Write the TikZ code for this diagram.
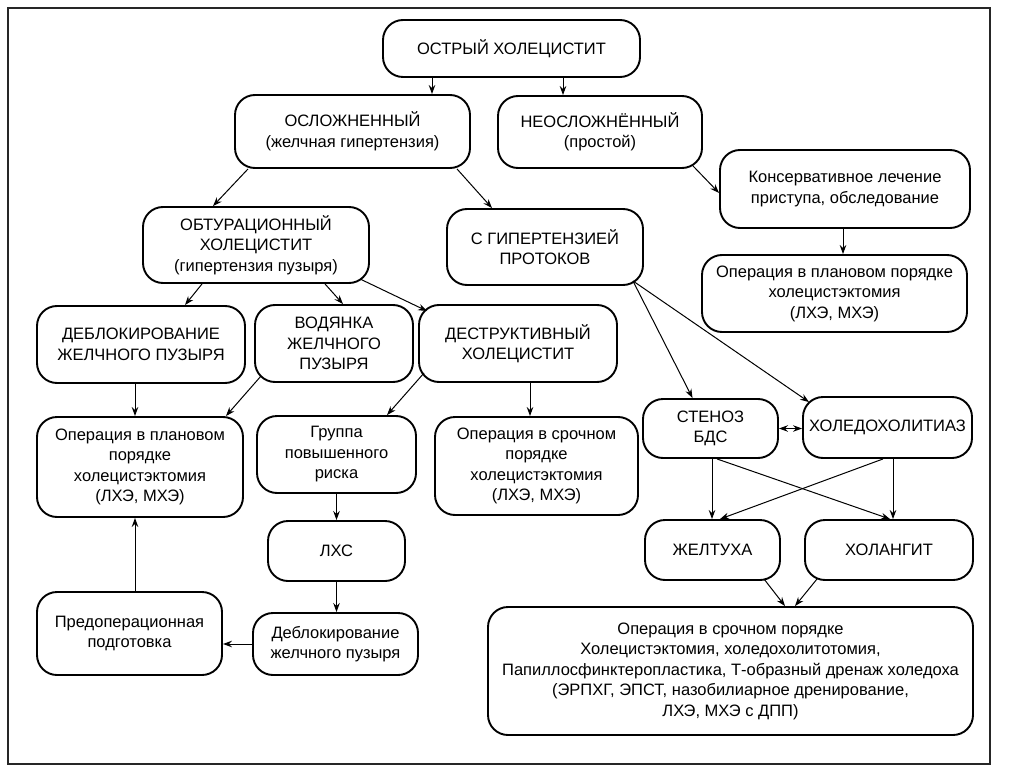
\documentclass[tikz,border=0pt]{standalone}
\usepackage{fontspec}
\setmainfont{Liberation Sans}
\usetikzlibrary{arrows.meta}
\begin{document}
\begin{tikzpicture}[x=1pt,y=-1pt,
  box/.style={draw, line width=1.9pt, rounded corners=20pt, align=center,
    inner sep=2pt, font=\fontsize{16.5}{20.5}\selectfont},
  arr/.style={line width=1pt, -{Stealth[length=9pt,width=6.5pt]}},
  darr/.style={line width=1pt, {Stealth[length=9pt,width=6.5pt]}-{Stealth[length=9pt,width=6.5pt]}}]
\useasboundingbox (0,0) rectangle (1024,767);
\draw[line width=1.6pt, black!85] (8,8) rectangle (990,764);

\node[box, minimum width=257pt, minimum height=57pt] (ost) at (511.5,48.5) {ОСТРЫЙ ХОЛЕЦИСТИТ};
\node[box, minimum width=235pt, minimum height=73pt] (osl) at (352.5,131.5) {ОСЛОЖНЕННЫЙ\\(желчная гипертензия)};
\node[box, minimum width=204pt, minimum height=72pt] (neo) at (600,132) {НЕОСЛОЖНЁННЫЙ\\(простой)};
\node[box, minimum width=250pt, minimum height=78pt] (kons) at (845,189) {Консервативное лечение\\приступа, обследование};
\node[box, minimum width=265pt, minimum height=77pt] (plan2) at (834.5,293.5) {Операция в плановом порядке\\холецистэктомия\\(ЛХЭ, МХЭ)};
\node[box, minimum width=226pt, minimum height=76pt] (obt) at (256,245) {ОБТУРАЦИОННЫЙ\\ХОЛЕЦИСТИТ\\(гипертензия пузыря)};
\node[box, minimum width=196pt, minimum height=76pt] (sgip) at (545,247) {С ГИПЕРТЕНЗИЕЙ\\ПРОТОКОВ};
\node[box, minimum width=208pt, minimum height=77pt] (debl1) at (141,344.5) {ДЕБЛОКИРОВАНИЕ\\ЖЕЛЧНОГО ПУЗЫРЯ};
\node[box, minimum width=158pt, minimum height=77pt] (vod) at (334,343.5) {ВОДЯНКА\\ЖЕЛЧНОГО\\ПУЗЫРЯ};
\node[box, minimum width=198pt, minimum height=77pt] (destr) at (518,343.5) {ДЕСТРУКТИВНЫЙ\\ХОЛЕЦИСТИТ};
\node[box, minimum width=206pt, minimum height=100pt] (plan1) at (140,467) {Операция в плановом\\порядке\\холецистэктомия\\(ЛХЭ, МХЭ)};
\node[box, minimum width=159pt, minimum height=77pt] (grp) at (336.5,454.5) {Группа\\повышенного\\риска};
\node[box, minimum width=203pt, minimum height=98pt] (sroch) at (536.5,466) {Операция в срочном\\порядке\\холецистэктомия\\(ЛХЭ, МХЭ)};
\node[box, minimum width=137pt, minimum height=60pt] (lhs) at (336.5,551) {ЛХС};
\node[box, minimum width=185pt, minimum height=83pt] (preop) at (129.5,633.5) {Предоперационная\\подготовка};
\node[box, minimum width=165pt, minimum height=62pt] (debl2) at (335.5,644) {Деблокирование\\желчного пузыря};
\node[box, minimum width=135pt, minimum height=59pt] (sten) at (710.5,428.5) {СТЕНОЗ\\БДС};
\node[box, minimum width=169pt, minimum height=61pt] (hol) at (887.5,427.5) {ХОЛЕДОХОЛИТИАЗ};
\node[box, minimum width=135pt, minimum height=60pt] (zhel) at (712.5,550) {ЖЕЛТУХА};
\node[box, minimum width=168pt, minimum height=60pt] (chol) at (889,550) {ХОЛАНГИТ};
\node[box, minimum width=485pt, minimum height=128pt] (big) at (730.5,671) {Операция в срочном порядке\\Холецистэктомия, холедохолитотомия,\\Папиллосфинктеропластика, Т-образный дренаж холедоха\\(ЭРПХГ, ЭПСТ, назобилиарное дренирование,\\ЛХЭ, МХЭ с ДПП)};

% connectors
\draw[arr] ([xshift=-79.5pt]ost.south) -- ([xshift=-79.5pt]ost.south |- osl.north);
\draw[arr] ([xshift=51.5pt]ost.south) -- ([xshift=51.5pt]ost.south |- neo.north);
\draw[arr] ([xshift=93pt,yshift=3pt]neo.south) -- ([yshift=-4pt]kons.west);
\draw[arr] ([xshift=-2pt]kons.south) -- ([xshift=-2pt]kons.south |- plan2.north);
\draw[arr] ([xshift=-104.5pt]osl.south) -- ([xshift=-43pt]obt.north);
\draw[arr] ([xshift=104.5pt]osl.south) -- ([xshift=-53pt]sgip.north);
\draw[arr] ([xshift=-54pt]obt.south) -- ([xshift=44pt]debl1.north);
\draw[arr] ([xshift=69pt]obt.south) -- ([xshift=9pt]vod.north);
\draw[arr] ([xshift=104pt,yshift=5pt]obt.south) -- ([xshift=9pt,yshift=-7pt]destr.north west);
\draw[arr] ([xshift=-6pt]debl1.south) -- ([xshift=-6pt]debl1.south |- plan1.north);
\draw[arr] ([xshift=7pt,yshift=7pt]vod.south west) -- ([xshift=-18pt]plan1.north east);
\draw[arr] ([xshift=6pt,yshift=10pt]destr.south west) -- ([xshift=50.5pt]grp.north);
\draw[arr] ([xshift=12pt]destr.south) -- ([xshift=12pt]destr.south |- sroch.north);
\draw[arr] (grp.south) -- (lhs.north);
\draw[arr] (lhs.south) -- (lhs.south |- debl2.north);
\draw[arr] (debl2.west) -- (debl2.west -| preop.east);
\draw[arr] ([xshift=5.5pt]preop.north) -- ([xshift=5.5pt]preop.north |- plan1.south);
\draw[arr] ([xshift=-11pt,yshift=5pt]sgip.south east) -- ([xshift=-18pt]sten.north);
\draw[arr] ([xshift=-11pt,yshift=5pt]sgip.south east) -- ([xshift=7pt,yshift=-6pt]hol.north west);
\draw[darr] (sten.east) -- (sten.east -| hol.west);
\draw[arr] ([xshift=1.5pt]sten.south) -- ([xshift=1.5pt]sten.south |- zhel.north);
\draw[arr] ([xshift=5.5pt]hol.south) -- ([xshift=5.5pt]hol.south |- chol.north);
\draw[arr] ([xshift=6.5pt]sten.south) -- ([xshift=1pt]chol.north);
\draw[arr] ([xshift=-4.5pt]hol.south) -- ([xshift=7.5pt]zhel.north);
\draw[arr] ([xshift=-17pt,yshift=2pt]zhel.south east) -- ([xshift=54.5pt]big.north);
\draw[arr] ([xshift=13pt,yshift=2pt]chol.south west) -- ([xshift=64.5pt]big.north);
\end{tikzpicture}
\end{document}
